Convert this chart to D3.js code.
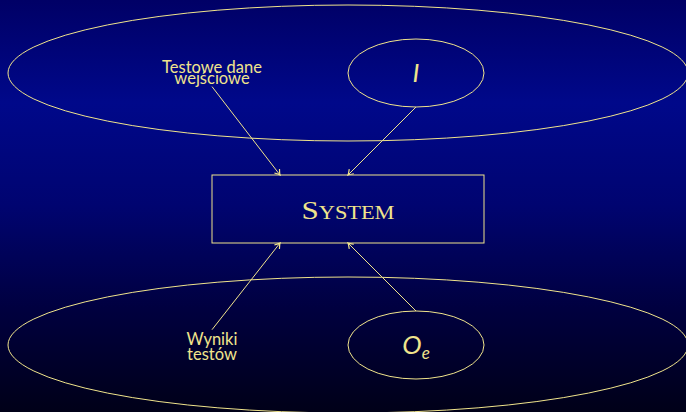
<!DOCTYPE html>
<html>
<head>
<meta charset="utf-8">
<script src="https://cdn.jsdelivr.net/npm/d3@7"></script>
<style>
  html, body { margin: 0; padding: 0; background: #000030; }
  svg { display: block; }
</style>
</head>
<body>
<div id="chart"></div>
<script>
// diagram data, in grid units (one unit = one tikz step)
var systemLabel = "System";
var inputLabel  = ["Testowe dane", "wejściowe"];
var outputLabel = ["Wyniki", "testów"];
var setNames    = ["I", "O"];          // O gets subscript e
var setSub      = ["", "e"];

// big ellipses (input domain / output domain)
var domainCy = [-4, 4];
// small ellipses I and O_e
var setCx = [2, 2];
var setCy = [-4, 4];
// arrows: from -> to (grid units)
var arrowFrom = [[-4, -3.6], [2, -3], [-4, 3.55], [2, 3]];
var arrowTo   = [[-2, -1],   [0, -1], [-2, 1],    [0, 1]];

var width = 686, height = 412;
var ink = "#f0e48c";

var x = d3.scaleLinear().domain([0, 1]).range([348, 382]);
var y = d3.scaleLinear().domain([0, 1]).range([209, 243]);
var rx = function (u) { return x(u) - x(0); };
var ry = function (u) { return y(u) - y(0); };

var svg = d3.select("#chart").append("svg")
    .attr("width", width).attr("height", height);

var defs = svg.append("defs");
var grad = defs.append("linearGradient").attr("id", "bg")
    .attr("x1", 0).attr("y1", 0).attr("x2", 0).attr("y2", 1);
[[0, "#000066"], [0.25, "#00088a"], [0.5, "#000470"], [0.75, "#00003f"], [1, "#000018"]]
  .forEach(function (s) { grad.append("stop").attr("offset", s[0]).attr("stop-color", s[1]); });

defs.append("marker").attr("id", "head")
    .attr("viewBox", "-6 -4 7 8").attr("refX", 0).attr("refY", 0)
    .attr("markerWidth", 7).attr("markerHeight", 8)
    .attr("markerUnits", "userSpaceOnUse").attr("orient", "auto")
  .append("path")
    .attr("d", "M-5,-3.2 Q-1.5,-0.6 0,0 Q-1.5,0.6 -5,3.2")
    .attr("fill", "none").attr("stroke", ink).attr("stroke-width", 1.2);

svg.append("rect").attr("width", width).attr("height", height).attr("fill", "url(#bg)");

//Domain ellipses
svg.selectAll(".domain").data(domainCy).enter().append("ellipse")
    .attr("cx", x(0)).attr("cy", function (d) { return y(d); })
    .attr("rx", rx(10)).attr("ry", ry(2))
    .attr("fill", "none").attr("stroke", ink).attr("stroke-width", 1);

//Set ellipses
svg.selectAll(".set").data(setNames).enter().append("ellipse")
    .attr("cx", function (d, i) { return x(setCx[i]); })
    .attr("cy", function (d, i) { return y(setCy[i]); })
    .attr("rx", rx(2)).attr("ry", ry(1))
    .attr("fill", "none").attr("stroke", ink).attr("stroke-width", 1);

var setText = svg.selectAll(".setText").data(setNames).enter().append("text")
    .attr("x", function (d, i) { return x(setCx[i]); })
    .attr("y", function (d, i) { return y(setCy[i]) + 9; })
    .attr("text-anchor", "middle")
    .attr("font-family", "Lato, 'Open Sans', sans-serif")
    .attr("font-style", "italic")
    .attr("font-size", "26px")
    .attr("fill", ink);
setText.append("tspan").text(function (d) { return d; });
setText.append("tspan").attr("font-size", "17px").attr("dy", 5)
    .text(function (d, i) { return setSub[i]; });

//System box
svg.append("rect")
    .attr("x", x(-4)).attr("y", y(-1))
    .attr("width", rx(8)).attr("height", ry(2))
    .attr("fill", "none").attr("stroke", ink).attr("stroke-width", 1);

svg.append("text")
    .attr("x", x(0)).attr("y", y(0) + 10)
    .attr("text-anchor", "middle")
    .attr("font-family", "'Liberation Serif', 'DejaVu Serif', serif")
    .attr("font-size", "25px")
    .attr("font-variant", "small-caps")
    .attr("textLength", 93)
    .attr("lengthAdjust", "spacingAndGlyphs")
    .attr("fill", ink)
    .text(systemLabel);

//Side labels
function label(lines, cy, gap) {
  var t = svg.append("text")
      .attr("text-anchor", "middle")
      .attr("font-family", "Lato, 'Open Sans', sans-serif")
      .attr("font-size", "16.5px")
      .attr("fill", ink);
  lines.forEach(function (l, i) {
    t.append("tspan").attr("x", x(-4))
      .attr("y", y(cy) + (i === 0 ? -0.5 : gap - 0.5))
      .text(l);
  });
}
label(inputLabel, -4, 11);
label(outputLabel, 4, 15);

//Arrows
svg.selectAll(".arrow").data(arrowFrom).enter().append("line")
    .attr("x1", function (d) { return x(d[0]); })
    .attr("y1", function (d) { return y(d[1]); })
    .attr("x2", function (d, i) { return x(arrowTo[i][0]); })
    .attr("y2", function (d, i) { return y(arrowTo[i][1]); })
    .attr("stroke", ink).attr("stroke-width", 1)
    .attr("marker-end", "url(#head)");
</script>
</body>
</html>
